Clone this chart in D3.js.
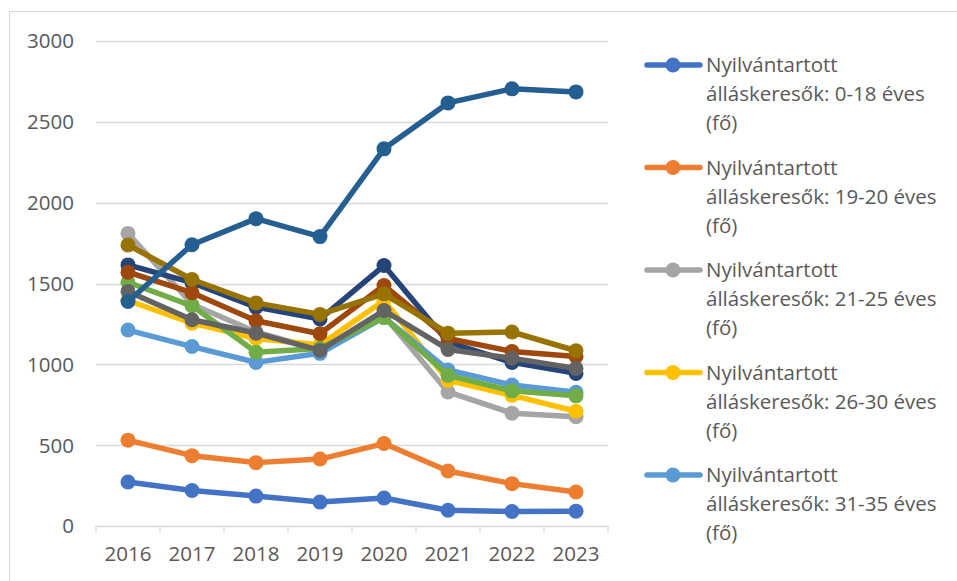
<!DOCTYPE html>
<html>
<head>
<meta charset="utf-8">
<script src="https://cdn.jsdelivr.net/npm/d3@7"></script>
<style>
  body { margin: 0; background: #fff; }
  text { font-family: "Open Sans", sans-serif; fill: #595959; }
</style>
</head>
<body>
<div id="chart"></div>
<script>
var years = ["2016", "2017", "2018", "2019", "2020", "2021", "2022", "2023"];
var yTicks = [0, 500, 1000, 1500, 2000, 2500, 3000];

var names = [
  "Nyilvántartott álláskeresők: 0-18 éves (fő)",
  "Nyilvántartott álláskeresők: 19-20 éves (fő)",
  "Nyilvántartott álláskeresők: 21-25 éves (fő)",
  "Nyilvántartott álláskeresők: 26-30 éves (fő)",
  "Nyilvántartott álláskeresők: 31-35 éves (fő)",
  "Nyilvántartott álláskeresők: 36-40 éves (fő)",
  "Nyilvántartott álláskeresők: 41-45 éves (fő)",
  "Nyilvántartott álláskeresők: 46-50 éves (fő)",
  "Nyilvántartott álláskeresők: 51-55 éves (fő)",
  "Nyilvántartott álláskeresők: 56-60 éves (fő)",
  "Nyilvántartott álláskeresők: 61 év felett (fő)"
];

var age0_18 = [272, 220, 185, 148, 173, 97, 90, 92];
var age19_20 = [531, 435, 392, 414, 510, 340, 262, 210];
var age21_25 = [1810, 1372, 1200, 1090, 1300, 829, 698, 676];
var age26_30 = [1395, 1255, 1160, 1120, 1395, 901, 808, 710];
var age31_35 = [1212, 1110, 1012, 1068, 1290, 965, 872, 827];
var age36_40 = [1508, 1362, 1075, 1098, 1290, 932, 836, 805];
var age41_45 = [1615, 1505, 1354, 1280, 1611, 1138, 1012, 944];
var age46_50 = [1570, 1443, 1270, 1189, 1488, 1160, 1080, 1049];
var age51_55 = [1451, 1276, 1193, 1086, 1333, 1092, 1038, 975];
var age56_60 = [1738, 1525, 1380, 1309, 1436, 1193, 1200, 1084];
var age61 = [1389, 1740, 1901, 1790, 2333, 2617, 2704, 2685];

var colors = ["#4472C4", "#ED7D31", "#A5A5A5", "#FFC000", "#5B9BD5", "#70AD47",
  "#264478", "#9E480E", "#636363", "#997300", "#255E91"];

var seriesValues = [age0_18, age19_20, age21_25, age26_30, age31_35, age36_40,
  age41_45, age46_50, age51_55, age56_60, age61];

var series = seriesValues.map(function (vals, i) {
  return { name: names[i], color: colors[i], values: vals };
});

var svgWidth = 957;
var svgHeight = 581;

var svg = d3.select("#chart")
  .append("svg")
  .attr("width", svgWidth)
  .attr("height", svgHeight);

// chart border
svg.append("rect")
  .attr("x", 9.5)
  .attr("y", 11.5)
  .attr("width", 970)
  .attr("height", 620)
  .attr("fill", "none")
  .attr("stroke", "#d9d9d9")
  .attr("stroke-width", 1);

var xScale = d3.scaleBand().domain(years).range([96, 608]);
var yScale = d3.scaleLinear().domain([0, 3000]).range([526, 41]);

// gridlines
svg.append("g")
  .selectAll("line")
  .data(yTicks.slice(1))
  .enter()
  .append("line")
  .attr("x1", 96)
  .attr("x2", 608)
  .attr("y1", (d) => Math.round(yScale(d)) + 0.5)
  .attr("y2", (d) => Math.round(yScale(d)) + 0.5)
  .attr("stroke", "#d9d9d9")
  .attr("stroke-width", 1.3);

// y axis labels
svg.append("g")
  .selectAll("text")
  .data(yTicks)
  .enter()
  .append("text")
  .attr("x", 74)
  .attr("y", (d) => yScale(d))
  .attr("dy", "0.36em")
  .attr("text-anchor", "end")
  .attr("font-size", "20.5px")
  .text((d) => d);

// x axis
var xAxis = d3.axisBottom(xScale).tickSize(0).tickPadding(20);
var xAxisG = svg.append("g")
  .attr("transform", `translate(0, ${yScale(0)})`)
  .call(xAxis);
xAxisG.select(".domain").attr("stroke", "#d9d9d9").attr("stroke-width", 1.3);
xAxisG.selectAll("text")
  .attr("font-size", "20.5px")
  .attr("font-family", "Open Sans, sans-serif")
  .attr("fill", "#595959");

var boundaries = years.map((d) => xScale(d)).concat([608]);
xAxisG.selectAll(".bound")
  .data(boundaries)
  .enter()
  .append("line")
  .attr("class", "bound")
  .attr("x1", (d) => d)
  .attr("x2", (d) => d)
  .attr("y1", 0)
  .attr("y2", 6)
  .attr("stroke", "#d9d9d9")
  .attr("stroke-width", 1.3);

var xPos = (d, i) => xScale(years[i]) + xScale.bandwidth() / 2;

var line = d3.line()
  .x(xPos)
  .y((d) => yScale(d));

var seriesG = svg.append("g")
  .selectAll(".series")
  .data(series)
  .enter()
  .append("g")
  .attr("class", "series");

seriesG.append("path")
  .attr("d", (d) => line(d.values))
  .attr("fill", "none")
  .attr("stroke", (d) => d.color)
  .attr("stroke-width", 5.5)
  .attr("stroke-linejoin", "round")
  .attr("stroke-linecap", "round");

seriesG.selectAll("circle")
  .data((d) => d.values.map((v) => ({ v: v, color: d.color })))
  .enter()
  .append("circle")
  .attr("cx", (d, i) => xPos(d, i))
  .attr("cy", (d) => yScale(d.v))
  .attr("r", 7.5)
  .attr("fill", (d) => d.color);

// legend (only the first five entries fit)
var legend = svg.append("g")
  .selectAll(".legend")
  .data(series.slice(0, 5))
  .enter()
  .append("g")
  .attr("class", "legend")
  .attr("transform", (d, i) => `translate(0, ${65 + i * 102.5})`);

legend.append("line")
  .attr("x1", 647)
  .attr("x2", 700)
  .attr("y1", 0)
  .attr("y2", 0)
  .attr("stroke", (d) => d.color)
  .attr("stroke-width", 5.5)
  .attr("stroke-linecap", "round");

legend.append("circle")
  .attr("cx", 673)
  .attr("cy", 0)
  .attr("r", 7.5)
  .attr("fill", (d) => d.color);

legend.each(function (d) {
  var parts = d.name.match(/^(Nyilvántartott) (.*) \(fő\)$/);
  var lines = [parts[1], parts[2], "(fő)"];
  d3.select(this)
    .selectAll("text")
    .data(lines)
    .enter()
    .append("text")
    .attr("x", 706)
    .attr("y", (t, j) => 7 + j * 29)
    .attr("font-size", "20.5px")
    .text((t) => t);
});
</script>
</body>
</html>
